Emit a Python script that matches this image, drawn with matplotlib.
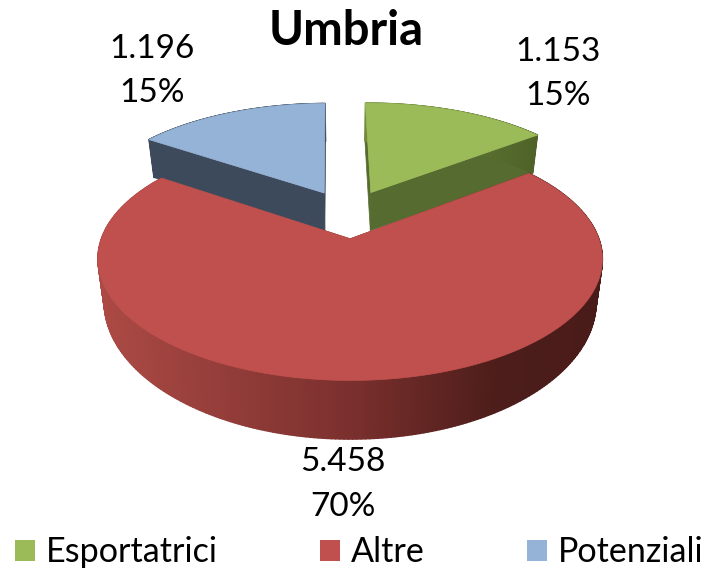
import numpy as np
import matplotlib
matplotlib.use("Agg")
import matplotlib.pyplot as plt
from matplotlib.patches import Polygon, Rectangle
from matplotlib.collections import PolyCollection
from matplotlib.colors import LinearSegmentedColormap

title = "Umbria"
categories = ["Esportatrici", "Altre", "Potenziali"]
values = [1153, 5458, 1196]
value_labels = ["1.153", "5.458", "1.196"]
pct_labels = ["15%", "70%", "15%"]
top_colors = ["#9BBB59", "#C0504D", "#95B3D7"]
cut_colors = ["#556B2F", "#6B2A28", "#3D4A5C"]
rim_cmaps = [
    [(0, "#6F8A3C"), (1, "#4F6329")],
    [(0, "#AC4A45"), (0.5, "#7B302E"), (0.8, "#4C1D1A"), (1, "#4A1C19")],
    [(0, "#3D4A5C"), (1, "#3D4A5C")],
]

# projection parameters (pixels)
CX, CY, A, B, P, D, EXPLODE, ROT = 348.5, 213.7, 240, 110, 0.16, 38, 0.22, 0.7

W, H = 709, 568
fig = plt.figure(figsize=(W / 100, H / 100), dpi=100)
ax = fig.add_axes([0, 0, 1, 1])
ax.set_xlim(0, W)
ax.set_ylim(H, 0)
ax.axis("off")
plt.rcParams["font.family"] = ["Lato", "DejaVu Sans"]


def project(u, v, drop=0.0):
    u = np.asarray(u, float)
    v = np.asarray(v, float)
    w = 1 + P * v
    depth = np.where(v < 0, D / w ** 2, D)
    x = CX + A * u / w * (1 - 0.025 * drop)
    return np.column_stack([x, CY - B * v / w + drop * depth])


fracs = np.array(values) / sum(values)
edges = 90 + ROT - 360 * np.concatenate([[0], np.cumsum(fracs)])


def slice_geometry(i):
    th = np.radians(np.linspace(edges[i], edges[i + 1], 300))
    mid = np.radians((edges[i] + edges[i + 1]) / 2)
    ou, ov = EXPLODE * np.cos(mid), EXPLODE * np.sin(mid)
    return ou, ov, ou + np.cos(th), ov + np.sin(th)


for i in [2, 0, 1]:
    ou, ov, au, av = slice_geometry(i)
    for k in (0, -1):
        eu = np.array([ou, au[k]])
        ev = np.array([ov, av[k]])
        pts = np.vstack([project(eu, ev), project(eu[::-1], ev[::-1], 1.0)])
        ax.add_patch(Polygon(pts, closed=True, fc=cut_colors[i], ec=cut_colors[i], lw=0.5, zorder=i + 2))
    top = project(au, av)
    bot = project(au, av, 1.0)
    quads = [[top[j], top[j + 1], bot[j + 1], bot[j]] for j in range(len(top) - 1)]
    cmap = LinearSegmentedColormap.from_list("rim", rim_cmaps[i])
    xs = top[:-1, 0]
    cols = cmap((xs - xs.min()) / max(np.ptp(xs), 1))
    ax.add_collection(PolyCollection(quads, facecolors=cols, edgecolors=cols, linewidths=1.0, zorder=i + 2))
    face = np.vstack([project([ou], [ov]), top])
    ax.add_patch(Polygon(face, closed=True, fc=top_colors[i], ec=top_colors[i], lw=0.5, zorder=i + 3))

# labels
TXT = dict(ha="center", va="center", color="black", fontsize=24)
ax.text(346, 31, title, ha="center", va="center", fontsize=34, fontweight="bold", color="black")
label_pos = {0: (558, 52, 96), 1: (343, 462, 507), 2: (152, 49, 93)}
for i, (x, y1, y2) in label_pos.items():
    ax.text(x, y1, value_labels[i], **TXT)
    ax.text(x, y2, pct_labels[i], **TXT)

# legend
swatch_x = [15, 320, 527]
text_x = [46, 351, 558]
for sx, tx, name, col in zip(swatch_x, text_x, categories, top_colors):
    ax.add_patch(Rectangle((sx, 540), 20, 21, fc=col, ec="none", zorder=5))
    ax.text(tx, 552, name, ha="left", va="center", color="black", fontsize=24.6)

fig.savefig("out.png", dpi=100, facecolor="white")
